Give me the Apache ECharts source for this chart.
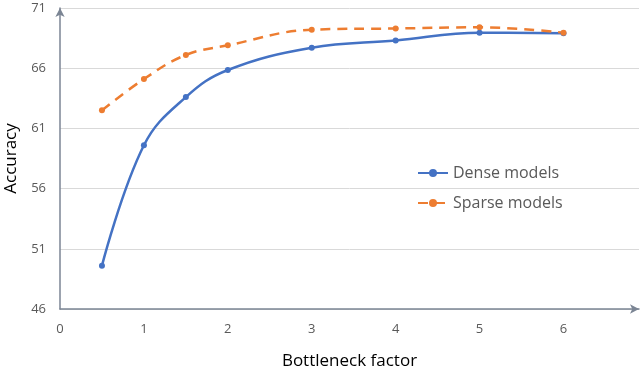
<!DOCTYPE html>
<html><head><meta charset="utf-8">
<script src="https://cdn.jsdelivr.net/npm/echarts@6/dist/echarts.min.js"></script>
<style>html,body{margin:0;padding:0;background:#fff}#c{width:640px;height:367px}</style>
</head><body><div id="c"></div>
<script>
const xValues = [0.5, 1, 1.5, 2, 3, 4, 5, 6];
const denseModels = [49.6, 59.6, 63.6, 65.85, 67.7, 68.3, 68.95, 68.9];
const sparseModels = [62.5, 65.1, 67.1, 67.9, 69.2, 69.3, 69.4, 68.95];
const pair = (ys) => xValues.map((x, i) => [x, ys[i]]);
const chart = echarts.init(document.getElementById('c'));
const font = '"Open Sans", "Noto Sans", sans-serif';
chart.setOption({
  animation: false,
  textStyle: {fontFamily: font},
  grid: {left: 60, right: 1, top: 8, bottom: 58, containLabel: false, outerBoundsMode: 'none'},
  xAxis: {
    type: 'value', min: 0, max: 6.9, interval: 1,
    name: 'Bottleneck factor', nameLocation: 'middle', nameGap: 44,
    nameTextStyle: {fontSize: 17, color: '#000', fontFamily: font},
    axisLine: {show: true, symbol: ['none', 'arrow'], symbolSize: [7, 9], lineStyle: {color: '#7b8594', width: 1.5}},
    axisTick: {show: false},
    splitLine: {show: false},
    axisLabel: {color: '#595959', fontSize: 13, margin: 14, showMaxLabel: false, fontFamily: font}
  },
  yAxis: {
    type: 'value', min: 46, max: 71, interval: 5,
    name: 'Accuracy', nameLocation: 'middle', nameGap: 40,
    nameTextStyle: {fontSize: 17, color: '#000', fontFamily: font},
    axisLine: {show: true, symbol: ['none', 'arrow'], symbolSize: [7, 9], lineStyle: {color: '#7b8594', width: 1.5}},
    axisTick: {show: false},
    splitLine: {show: true, lineStyle: {color: '#d9d9d9', width: 1}},
    axisLabel: {color: '#595959', fontSize: 13, margin: 14, fontFamily: font}
  },
  legend: {
    orient: 'vertical', left: 412, top: 160, itemWidth: 30, itemHeight: 10, itemGap: 14,
    textStyle: {fontSize: 16, color: '#595959', fontFamily: font},
    data: ['Dense models', 'Sparse models']
  },
  series: [
    {name: 'Dense models', type: 'line', smooth: 0.4, data: pair(denseModels),
     symbol: 'circle', symbolSize: 6, itemStyle: {color: '#4472C4'},
     lineStyle: {color: '#4472C4', width: 2.5}},
    {name: 'Sparse models', type: 'line', smooth: 0.4, data: pair(sparseModels),
     symbol: 'circle', symbolSize: 6, itemStyle: {color: '#ED7D31'},
     lineStyle: {color: '#ED7D31', width: 2.5, type: [10, 7]}}
  ]
});
</script></body></html>
